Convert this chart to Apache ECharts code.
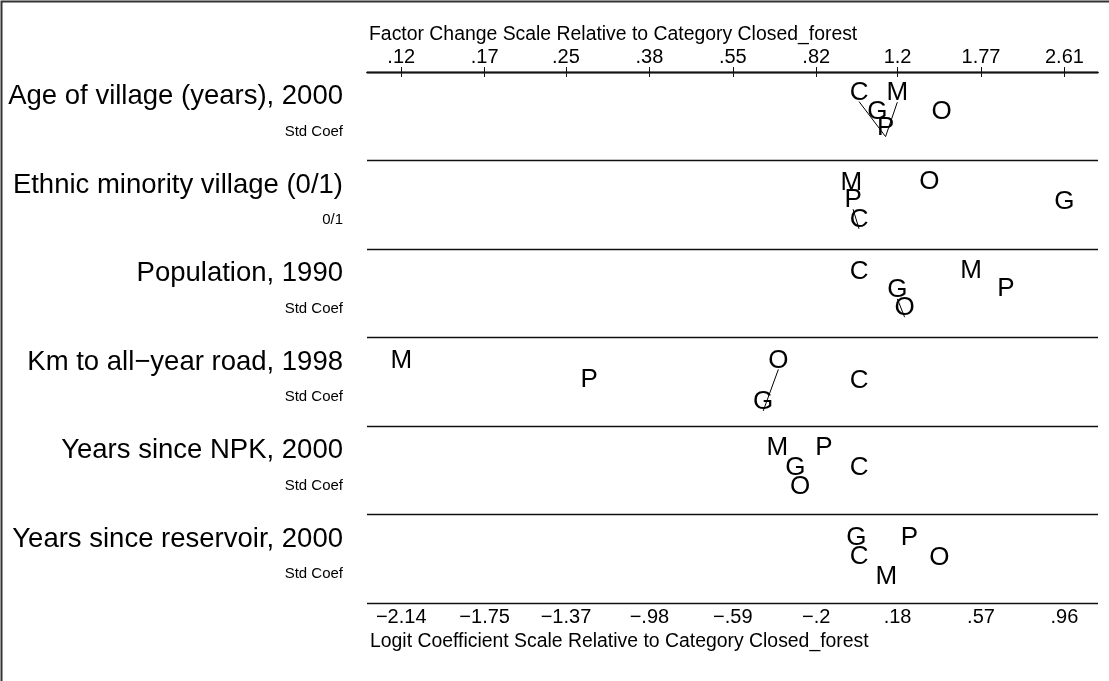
<!DOCTYPE html>
<html>
<head>
<meta charset="utf-8">
<title>Odds ratio plot: land cover categories vs Closed_forest</title>
<script src="https://cdn.jsdelivr.net/npm/echarts@6/dist/echarts.min.js"></script>
<style>
  html, body { margin: 0; padding: 0; background: #fff; }
  #chart { width: 1109px; height: 681px; }
</style>
</head>
<body>
<div id="chart"></div>
<script>
// Explanatory variables (one panel each) and the unit the coefficient is expressed in
const varLabels = [
  'Age of village (years), 2000',
  'Ethnic minority village (0/1)',
  'Population, 1990',
  'Km to all\u2212year road, 1998',
  'Years since NPK, 2000',
  'Years since reservoir, 2000'
];
const varUnits = ['Std Coef', '0/1', 'Std Coef', 'Std Coef', 'Std Coef', 'Std Coef'];

// Logit coefficients relative to the base category Closed_forest (C)
const coefC = [0, 0, 0, 0, 0, 0];
const coefG = [0.086, 0.96, 0.179, -0.448, -0.298, -0.013];
const coefM = [0.179, -0.036, 0.524, -2.14, -0.382, 0.127];
const coefO = [0.386, 0.329, 0.213, -0.377, -0.275, 0.375];
const coefP = [0.124, -0.028, 0.687, -1.261, -0.164, 0.235];

// Pairs of categories joined by a line (differences not significant), per panel
const linkedPairs = [
  [0, 'C', 'P'],
  [0, 'M', 'P'],
  [1, 'P', 'C'],
  [2, 'G', 'O'],
  [3, 'O', 'G']
];

// Tick values and labels on both scales
const logitTicks = [-2.14, -1.75, -1.37, -0.98, -0.59, -0.2, 0.18, 0.57, 0.96];
const logitTickLabels = ['\u22122.14', '\u22121.75', '\u22121.37', '\u2212.98', '\u2212.59', '\u2212.2', '.18', '.57', '.96'];
const factorTickLabels = ['.12', '.17', '.25', '.38', '.55', '.82', '1.2', '1.77', '2.61'];

// ---- layout (not data) ----
// depth of each letter inside its panel, as a fraction of the panel height
const letterDepth = {
  C: [0.234, 0.672, 0.256, 0.49, 0.478, 0.477],
  G: [0.449, 0.466, 0.463, 0.73, 0.478, 0.269],
  M: [0.241, 0.251, 0.245, 0.27, 0.252, 0.703],
  O: [0.449, 0.240, 0.670, 0.26, 0.686, 0.495],
  P: [0.630, 0.450, 0.455, 0.485, 0.252, 0.269]
};
const ANCHOR_DROP = 0.1;      // connecting lines attach just under each letter
const LABEL_LIFT = 9;         // px: letter drawn above its anchor
const FONT = "'Liberation Sans', Arial, Helvetica, sans-serif";

const coefs = { C: coefC, G: coefG, M: coefM, O: coefO, P: coefP };
const letters = ['C', 'G', 'M', 'O', 'P'];

function anchor(letter, row) {
  return [coefs[letter][row], row + letterDepth[letter][row] + ANCHOR_DROP];
}

const letterSeries = letters.map(function (L) {
  return {
    type: 'scatter',
    name: L,
    xAxisIndex: 0,
    yAxisIndex: 0,
    symbol: 'circle',
    symbolSize: 1,
    itemStyle: { color: 'rgba(0,0,0,0)', opacity: 1 },
    silent: true,
    z: 5,
    label: {
      show: true,
      position: 'inside',
      offset: [0, -LABEL_LIFT],
      formatter: L,
      color: '#000',
      opacity: 1,
      fontSize: 26,
      fontFamily: FONT
    },
    data: varLabels.map(function (_, i) { return anchor(L, i); })
  };
});

const linkSeries = linkedPairs.map(function (p) {
  return {
    type: 'line',
    xAxisIndex: 0,
    yAxisIndex: 0,
    symbol: 'none',
    silent: true,
    z: 4,
    lineStyle: { color: '#000', width: 1 },
    data: [anchor(p[1], p[0]), anchor(p[2], p[0])]
  };
});

function lookup(ticks, labels) {
  return function (v) {
    for (let i = 0; i < ticks.length; i++) {
      if (Math.abs(ticks[i] - v) < 1e-6) return labels[i];
    }
    return '';
  };
}

const X_MIN = -2.30, X_MAX = 1.117;

const axisCommon = {
  type: 'value',
  min: X_MIN,
  max: X_MAX,
  splitLine: { show: false },
  axisLine: { show: true, lineStyle: { color: '#111', width: 1.3 } },
  axisTick: { show: true, inside: true, length: 5, customValues: logitTicks, lineStyle: { color: '#111', width: 1 } }
};

const chart = echarts.init(document.getElementById('chart'), null, { renderer: 'canvas' });

chart.setOption({
  animation: false,
  backgroundColor: '#fff',
  grid: { left: 367, top: 72, width: 731, height: 531, containLabel: false },
  xAxis: [
    Object.assign({}, axisCommon, {
      position: 'bottom',
      axisLabel: {
        customValues: logitTicks,
        formatter: lookup(logitTicks, logitTickLabels),
        color: '#000', fontSize: 20, fontFamily: FONT, margin: 4
      }
    }),
    Object.assign({}, axisCommon, {
      position: 'top',
      axisLabel: {
        customValues: logitTicks,
        formatter: lookup(logitTicks, factorTickLabels),
        color: '#000', fontSize: 20, fontFamily: FONT, margin: 5
      }
    })
  ],
  yAxis: [
    {
      type: 'value',
      min: 0, max: 6, interval: 1,
      inverse: true,
      position: 'right',
      axisLine: { show: false },
      axisTick: { show: false },
      axisLabel: { show: false },
      splitLine: { show: true, lineStyle: { color: '#111', width: 1.3 } }
    },
    {
      type: 'category',
      data: varLabels,
      inverse: true,
      position: 'left',
      axisLine: { show: false },
      axisTick: { show: false },
      splitLine: { show: false },
      axisLabel: {
        margin: 24,
        align: 'right',
        fontFamily: FONT,
        color: '#000',
        formatter: function (v, i) { return '{a|' + v + '}\n{b|' + varUnits[i] + '}'; },
        rich: {
          a: { fontSize: 27.5, lineHeight: 31, fontFamily: FONT, color: '#000', align: 'right' },
          b: { fontSize: 15, lineHeight: 39, fontFamily: FONT, color: '#000', align: 'right' }
        }
      }
    }
  ],
  graphic: [
    {
      type: 'rect',
      silent: true,
      shape: { x: 1.5, y: 1.5, width: 1300, height: 900 },
      style: { fill: 'none', stroke: '#333', lineWidth: 2 }
    },
    {
      type: 'text',
      silent: true,
      x: 369, y: 35,
      style: {
        text: 'Factor Change Scale Relative to Category Closed_forest',
        fill: '#000', font: '19.4px ' + FONT, textAlign: 'left', textVerticalAlign: 'middle'
      }
    },
    {
      type: 'text',
      silent: true,
      x: 370, y: 642,
      style: {
        text: 'Logit Coefficient Scale Relative to Category Closed_forest',
        fill: '#000', font: '19.4px ' + FONT, textAlign: 'left', textVerticalAlign: 'middle'
      }
    }
  ],
  series: linkSeries.concat(letterSeries)
});
</script>
</body>
</html>
